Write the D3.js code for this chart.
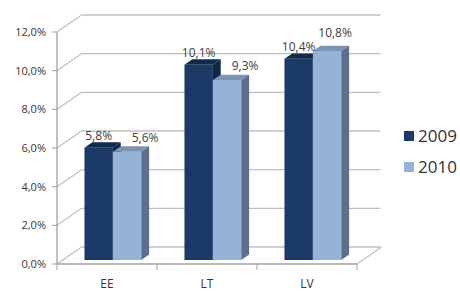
<!DOCTYPE html>
<html><head><meta charset="utf-8">
<script src="https://cdn.jsdelivr.net/npm/d3@7"></script>
<style>body{margin:0;background:#fff}svg{display:block}</style>
</head><body>
<svg id="c" width="460" height="291"></svg>
<script>
const categories = ["EE", "LT", "LV"];
const seriesNames = ["2009", "2010"];
const values2009 = [5.8, 10.1, 10.4];
const values2010 = [5.6, 9.3, 10.8];
const yTickValues = [0, 2, 4, 6, 8, 10, 12];

const fmt = d3.formatLocale({decimal: ",", thousands: " ", grouping: [3], currency: ["", ""]}).format(".1f");
const pct = v => fmt(v) + "%";

const svg = d3.select("#c");
const FONT = "'Open Sans', 'Liberation Sans', sans-serif";
const DX = 24.5, DY = -17;
const P = (x, y, d) => [x + DX * d, y + DY * d];

const y = d3.scaleLinear().domain([0, 12]).range([264, 32]);
const x0 = d3.scaleBand().domain(categories).range([57, 357]);
const x1 = d3.scaleBand().domain(seriesNames).range([0, x0.bandwidth()]).paddingInner(0).paddingOuter(0.76);

const gridCol = "#c0c0c0", axisCol = "#a0a0a0";
const g = svg.append("g");

// back wall gridlines and side diagonals
yTickValues.forEach(t => {
  const a = P(57, y(t), 1), b = P(356, y(t), 1), c = P(57, y(t), 0);
  g.append("line").attr("x1", a[0]).attr("y1", a[1]).attr("x2", b[0]).attr("y2", b[1]).attr("stroke", gridCol).attr("stroke-width", 1.3);
  g.append("line").attr("x1", c[0]).attr("y1", c[1]).attr("x2", a[0]).attr("y2", a[1]).attr("stroke", gridCol).attr("stroke-width", 1.3);
});
// floor right edge
{
  const a = P(357, y(0), 0), b = P(357, y(0), 1);
  g.append("line").attr("x1", a[0]).attr("y1", a[1]).attr("x2", b[0]).attr("y2", b[1]).attr("stroke", gridCol).attr("stroke-width", 1.3);
}
// front axes
g.append("line").attr("x1", 57).attr("y1", y(12)).attr("x2", 57).attr("y2", y(0)).attr("stroke", axisCol).attr("stroke-width", 1.3);
g.append("line").attr("x1", 57).attr("y1", y(0)).attr("x2", 357).attr("y2", y(0)).attr("stroke", axisCol).attr("stroke-width", 1.3);

// y axis ticks and labels
yTickValues.forEach(t => {
  g.append("line").attr("x1", 52).attr("x2", 57).attr("y1", y(t)).attr("y2", y(t)).attr("stroke", axisCol);
  g.append("text").attr("x", 46).attr("y", y(t)).attr("dy", "0.35em").attr("text-anchor", "end")
    .attr("font-family", FONT).attr("font-size", 11).attr("fill", "#363636").text(pct(t));
});
// x ticks
[...categories.map(c => x0(c)), 357].forEach(xx => {
  g.append("line").attr("x1", xx).attr("x2", xx).attr("y1", y(0)).attr("y2", y(0) + 6).attr("stroke", axisCol);
});
categories.forEach(c => {
  g.append("text").attr("x", x0(c) + x0.bandwidth() / 2).attr("y", 284).attr("dy", "0.35em").attr("text-anchor", "middle")
    .attr("font-family", FONT).attr("font-size", 12).attr("fill", "#363636").text(c);
});

// bars
const styles = {
  "2009": {front: "#1b3a66", top: "#102a4d", side: "#0f2544"},
  "2010": {front: "#95b3d7", top: "#7d93b2", side: "#5d6f8b"}
};
const d0 = 0.24, d1 = 0.56;
const poly = pts => pts.map(p => p.join(",")).join(" ");
const seriesVals = {"2009": values2009, "2010": values2010};

categories.forEach((c, i) => {
  seriesNames.forEach(s => {
    const v = seriesVals[s][i];
    const bx = x0(c) + x1(s), w = x1.bandwidth();
    const st = styles[s];
    const yv = y(v), yb = y(0);
    g.append("polygon").attr("points", poly([P(bx, yv, d0), P(bx + w, yv, d0), P(bx + w, yb, d0), P(bx, yb, d0)])).attr("fill", st.front);
    g.append("polygon").attr("points", poly([P(bx, yv, d0), P(bx + w, yv, d0), P(bx + w, yv, d1), P(bx, yv, d1)])).attr("fill", st.top);
    g.append("polygon").attr("points", poly([P(bx + w, yv, d0), P(bx + w, yb, d0), P(bx + w, yb, d1), P(bx + w, yv, d1)])).attr("fill", st.side);
  });
});

// value labels
categories.forEach((c, i) => {
  seriesNames.forEach(s => {
    const v = seriesVals[s][i];
    const bx = x0(c) + x1(s), w = x1.bandwidth();
    const top = P(bx + w / 2, y(v), d0);
    let dx = 0, dy = -12;
    if (s === "2010") {
      if (v < values2009[i]) { dx = 18; dy = -14; } else { dx = 8; dy = -18; }
    }
    g.append("text").attr("x", top[0] + dx).attr("y", top[1] + dy).attr("dy", "0.35em").attr("text-anchor", "middle")
      .attr("font-family", FONT).attr("font-size", 12).attr("fill", "#404040").text(pct(v));
  });
});

// legend
seriesNames.forEach((s, k) => {
  const ly = 136 + k * 31;
  g.append("rect").attr("x", 404).attr("y", ly - 5).attr("width", 10).attr("height", 10).attr("fill", styles[s].front);
  g.append("text").attr("x", 418).attr("y", ly).attr("dy", "0.36em").attr("font-family", FONT).attr("font-size", 17)
    .attr("fill", "#333").text(s);
});
</script>
</body></html>
